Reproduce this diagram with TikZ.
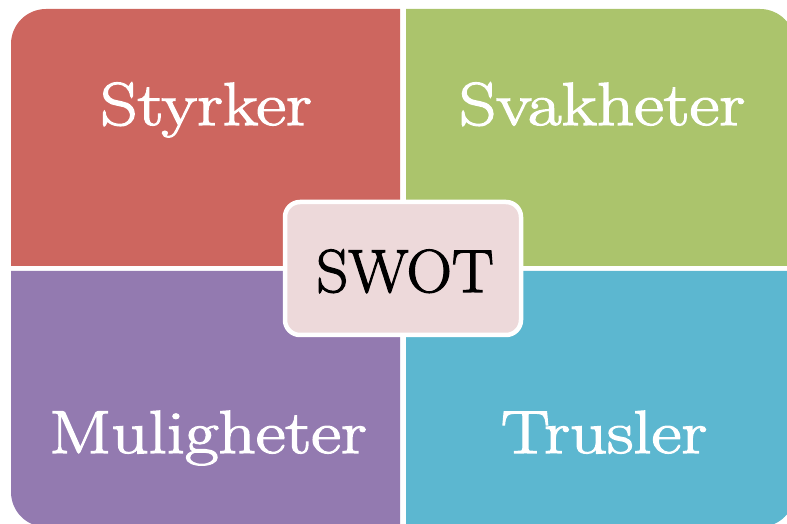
\documentclass[tikz,border=0pt]{standalone}
\usepackage{fontspec}
\setmainfont{Latin Modern Roman}
\usepackage{tikz}

\definecolor{styrkred}{RGB}{205,102,95}
\definecolor{svakgreen}{RGB}{171,196,108}
\definecolor{mulipurple}{RGB}{147,122,176}
\definecolor{truscyan}{RGB}{92,183,208}
\definecolor{swotpink}{RGB}{237,217,218}

\tikzset{
  quadlabel/.style={text=white, anchor=base, inner sep=0pt, xscale=1.2,
    font=\fontsize{61}{61}\selectfont\addfontfeature{FakeBold=2}},
  swotbox/.style={fill=swotpink, draw=white, line width=4.5bp, rounded corners=15bp,
    minimum width=236bp, minimum height=133bp, inner sep=0pt}
}

\begin{document}
\begin{tikzpicture}[x=1bp,y=1bp]

 \useasboundingbox (0,0) rectangle (787,524);
 \clip (0,0) rectangle (787,524);

 % four quadrants, outer corner rounded
 \fill[styrkred] (400,258) -- (11,258) -- (11,480) arc(180:90:35) -- (400,515) -- cycle; % top left
 \fill[svakgreen] (406,258) -- (406,515) -- (760,515) arc(90:0:35) -- (795,258) -- cycle; % top right
 \fill[mulipurple] (400,253) -- (11,253) -- (11,32) arc(180:270:35) -- (400,-3) -- cycle; % bottom left
 \fill[truscyan] (406,253) -- (406,-3) -- (760,-3) arc(270:360:35) -- (795,253) -- cycle; % bottom right

 \node[quadlabel] (styrker) at (206,399) {Styrker};
 \node[quadlabel] (svakheter) at (602,399) {Svakheter};
 \node[quadlabel] (muligheter) at (208,71) {Muligheter};
 \node[quadlabel] (trusler) at (604,71) {Trusler};

 % centre box
 \node[swotbox] (swot) at (403,255.5) {};
 \node[quadlabel, text=black, xscale=0.86] (swottext) at (405,232) {SWOT};

\end{tikzpicture}
\end{document}
